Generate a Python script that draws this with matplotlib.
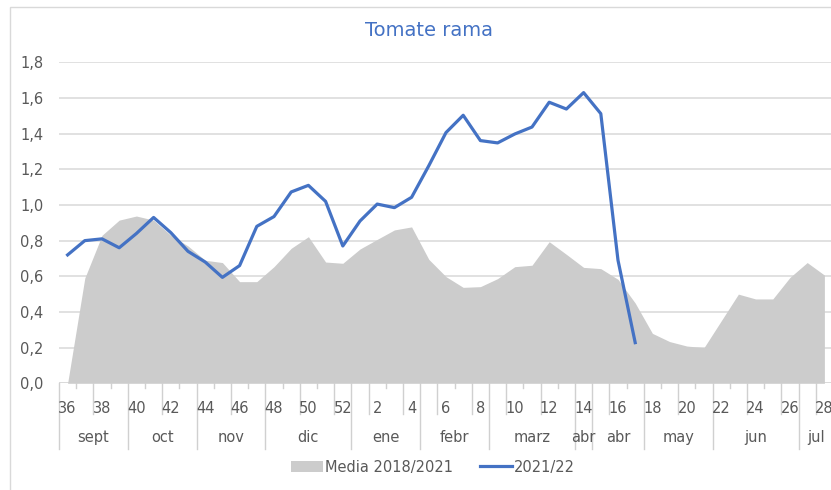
import matplotlib
matplotlib.use("Agg")
import matplotlib.pyplot as plt
from matplotlib.patches import Patch, Rectangle
from matplotlib.lines import Line2D

# semanas de campaña (36..52, 1..28)
weeks = list(range(36, 53)) + list(range(1, 29))
media = [0.00, 0.59, 0.83, 0.915, 0.938, 0.915, 0.83, 0.77, 0.69, 0.677,
         0.57, 0.57, 0.654, 0.757, 0.822, 0.68, 0.673, 0.753, 0.807, 0.86,
         0.877, 0.695, 0.598, 0.538, 0.542, 0.587, 0.654, 0.662, 0.794, 0.723,
         0.65, 0.643, 0.583, 0.45, 0.28, 0.234, 0.209, 0.20, 0.35, 0.50,
         0.473, 0.473, 0.594, 0.677, 0.607]
campana = [0.72, 0.80, 0.81, 0.76, 0.84, 0.93, 0.845, 0.74, 0.68, 0.594,
           0.66, 0.88, 0.935, 1.073, 1.11, 1.02, 0.77, 0.91, 1.005, 0.985,
           1.043, 1.22, 1.406, 1.503, 1.361, 1.348, 1.398, 1.437, 1.576, 1.538,
           1.63, 1.512, 0.69, 0.228]
month_names = ["sept", "oct", "nov", "dic", "ene", "febr", "marz", "abr", "abr",
               "may", "jun", "jul"]
month_weeks = [4, 4, 4, 5, 4, 4, 5, 1, 3, 4, 5, 2]
yticks = [0.0, 0.2, 0.4, 0.6, 0.8, 1.0, 1.2, 1.4, 1.6, 1.8]

BLUE = "#4472C4"
GRAY = "#CCCCCC"
TXT = "#595959"
LINE = "#D0D0D0"

W, H = 831, 490
fig = plt.figure(figsize=(W / 100, H / 100), dpi=100)
ax_left, ax_right = 59, 831
ax_top, ax_bot = 62.3, 383.3
ax = fig.add_axes([ax_left / W, 1 - ax_bot / H, (ax_right - ax_left) / W, (ax_bot - ax_top) / H])
ax_h = ax_bot - ax_top

x = list(range(len(weeks)))
ax.fill_between(x, media, 0, color=GRAY, lw=0, zorder=2)
ax.plot(x[:len(campana)], campana, color=BLUE, lw=2.3, zorder=3, solid_joinstyle="round")

step = 17.2
ax.set_xlim(-0.5, -0.5 + (ax_right - ax_left) / step)
ax.set_ylim(0, 1.8)
ax.set_yticks(yticks)
ax.set_yticklabels([f"{v:.1f}".replace(".", ",") for v in yticks], color=TXT, fontsize=10.5)
ax.tick_params(axis="y", length=0, pad=11)
ax.set_xticks([])
ax.grid(axis="y", color="#D9D9D9", lw=1.1, zorder=1)
ax.set_axisbelow(True)
for s in ax.spines.values():
    s.set_visible(False)
ax.axhline(0, color="#D9D9D9", lw=1.1, zorder=1)

trans = ax.get_xaxis_transform()
month_bounds = [0]
for n in month_weeks:
    month_bounds.append(month_bounds[-1] + n)

# separadores de categorías
for k in range(len(weeks) + 1):
    b = k - 0.5
    if k in month_bounds:
        d = 66
    elif k % 2 == 0:
        d = 31
    else:
        d = 5
    ax.plot([b, b], [0, -d / ax_h], color=LINE, lw=1, transform=trans, clip_on=False)

for i, w in enumerate(weeks):
    if i % 2 == 0:
        ax.text(i, -25 / ax_h, str(w), transform=trans, ha="center", va="center",
                fontsize=10.5, color=TXT, clip_on=False)

for name, a, b in zip(month_names, month_bounds[:-1], month_bounds[1:]):
    ax.text((a + b - 1) / 2, -54 / ax_h, name, transform=trans, ha="center", va="center",
            fontsize=10.5, color=TXT, clip_on=False)

fig.text(429 / W, 1 - 31 / H, "Tomate rama", ha="center", va="center", fontsize=14, color=BLUE)

handles = [Patch(facecolor=GRAY, edgecolor="none"), Line2D([], [], color=BLUE, lw=2.3)]
fig.legend(handles, ["Media 2018/2021", "2021/22"], loc="center", bbox_to_anchor=(433 / W, 1 - 467 / H),
           ncol=2, frameon=False, fontsize=10.5, labelcolor=TXT, handlelength=2.2,
           handletextpad=0.15, columnspacing=1.8)

# borde del gráfico
fig.add_artist(Rectangle((10 / W, -0.1), 1.1, 1.1 - 7 / H, transform=fig.transFigure,
                         fill=False, edgecolor="#D9D9D9", lw=1))

fig.savefig("out.png", dpi=100)
